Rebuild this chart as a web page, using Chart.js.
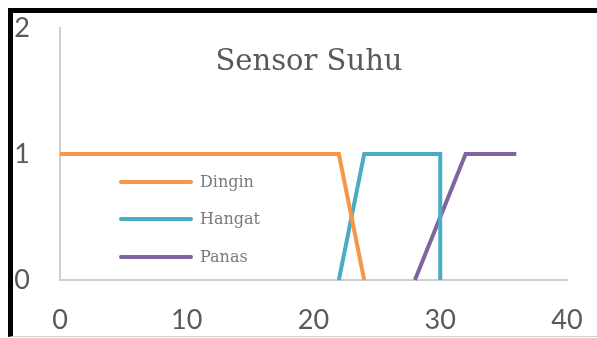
<!DOCTYPE html>
<html>
<head>
<meta charset="utf-8">
<script src="https://cdn.jsdelivr.net/npm/chart.js@4/dist/chart.umd.min.js"></script>
<style>
  html, body { margin: 0; padding: 0; background: #fff; }
  #wrap { position: relative; width: 597px; height: 338px; overflow: hidden; background: #fff; }
  #frame { position: absolute; left: 8px; top: 8px; right: -10px; bottom: 1px;
           border-left: 5px solid #000; border-top: 5px solid #000; border-bottom: 1px solid #d0d0d0; }
  #c { position: absolute; left: 0; top: 0; }
</style>
</head>
<body>
<div id="wrap">
  <div id="frame"></div>
  <canvas id="c" width="597" height="338"></canvas>
</div>
<script>
// Temperature membership functions (x = suhu, y = degree of membership)
const chartTitle = 'Sensor Suhu';
const seriesNames = ['Dingin', 'Hangat', 'Panas'];
const seriesColors = ['#F79646', '#4BACC6', '#8064A2'];
const dinginX = [0, 22, 24];
const dinginY = [1, 1, 0];
const hangatX = [22, 24, 30, 30];
const hangatY = [0, 1, 1, 0];
const panasX = [28, 32, 36];
const panasY = [0, 1, 1];
const xTicks = [0, 10, 20, 30, 40];
const yTicks = [0, 1, 2];

const toPoints = (xs, ys) => xs.map((x, i) => ({ x: x, y: ys[i] }));
const seriesData = [toPoints(dinginX, dinginY), toPoints(hangatX, hangatY), toPoints(panasX, panasY)];

const textGrey = '#595959';
const axisGrey = '#CFCFCF';

// Title and in-plot legend drawn on the canvas
const overlay = {
  id: 'overlay',
  afterDraw(chart) {
    const ctx = chart.ctx;
    ctx.save();
    ctx.fillStyle = textGrey;
    ctx.font = '29px "DejaVu Serif", serif';
    ctx.textAlign = 'center';
    ctx.textBaseline = 'alphabetic';
    ctx.fillText(chartTitle, 309, 70);

    const rows = [182, 219, 257];
    ctx.font = '16px "DejaVu Serif", serif';
    ctx.textAlign = 'left';
    ctx.textBaseline = 'middle';
    chart.data.datasets.forEach((ds, i) => {
      ctx.strokeStyle = ds.borderColor;
      ctx.lineWidth = 4;
      ctx.lineCap = 'round';
      ctx.beginPath();
      ctx.moveTo(121, rows[i]);
      ctx.lineTo(191, rows[i]);
      ctx.stroke();
      ctx.fillStyle = '#7a7a7a';
      ctx.fillText(ds.label, 200, rows[i] + 1);
    });
    ctx.restore();
  }
};

new Chart(document.getElementById('c'), {
  type: 'line',
  data: {
    datasets: seriesNames.map((name, i) => ({
      label: name,
      data: seriesData[i],
      borderColor: seriesColors[i],
      backgroundColor: seriesColors[i],
      borderWidth: 4,
      pointRadius: 0,
      tension: 0,
      fill: false,
      clip: false
    }))
  },
  options: {
    responsive: false,
    animation: false,
    layout: { padding: { left: 0, right: 30, top: 28, bottom: 0 } },
    plugins: { legend: { display: false }, tooltip: { enabled: false }, title: { display: false } },
    scales: {
      x: {
        type: 'linear', min: 0, max: 40,
        afterBuildTicks: s => { s.ticks = xTicks.map(v => ({ value: v })); },
        afterFit: s => { s.height = 58; s.paddingLeft = 0; s.paddingRight = 0; },
        grid: { display: false, drawTicks: false },
        border: { display: true, color: axisGrey, width: 2 },
        ticks: { color: textGrey, padding: 24, font: { family: 'Lato, "Open Sans", sans-serif', size: 27 } }
      },
      y: {
        type: 'linear', min: 0, max: 2,
        afterBuildTicks: s => { s.ticks = yTicks.map(v => ({ value: v })); },
        afterFit: s => { s.width = 60; s.paddingTop = 0; s.paddingBottom = 0; },
        grid: { display: false, drawTicks: false },
        border: { display: true, color: axisGrey, width: 2 },
        ticks: { color: textGrey, padding: 30, font: { family: 'Lato, "Open Sans", sans-serif', size: 27 } }
      }
    }
  },
  plugins: [overlay]
});
</script>
</body>
</html>
